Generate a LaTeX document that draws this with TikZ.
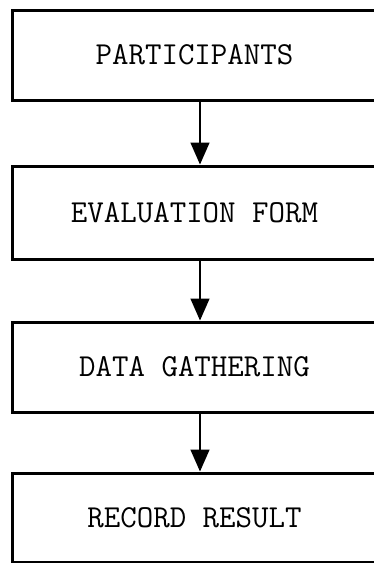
\documentclass[tikz,border=0pt]{standalone}
\usepackage{fontspec}
\usetikzlibrary{arrows.meta}
\begin{document}
\begin{tikzpicture}[x=1pt,y=-1pt,
  box/.style={draw, line width=3pt, minimum width=364pt, inner sep=0pt,
              font=\ttfamily\fontsize{32}{36}\selectfont},
  arr/.style={line width=1.5pt, -{Triangle[length=22pt,width=19pt]}}]
  \clip (0,0) rectangle (374,563);
  \fill[white] (0,0) rectangle (374,563);
  \coordinate (ax) at (200,0);
  \node[box, minimum height=90pt] (b1) at (194.5,55) {PARTICIPANTS};
  \node[box, minimum height=93pt] (b2) at (194.5,212.5) {EVALUATION FORM};
  \node[box, minimum height=90pt] (b3) at (194.5,367) {DATA GATHERING};
  \node[box, minimum height=89pt] (b4) at (194.5,517.5) {RECORD RESULT};
  \draw[arr] (b1.south -| ax) -- (b2.north -| ax);
  \draw[arr] (b2.south -| ax) -- (b3.north -| ax);
  \draw[arr] (b3.south -| ax) -- (b4.north -| ax);
\end{tikzpicture}
\end{document}
